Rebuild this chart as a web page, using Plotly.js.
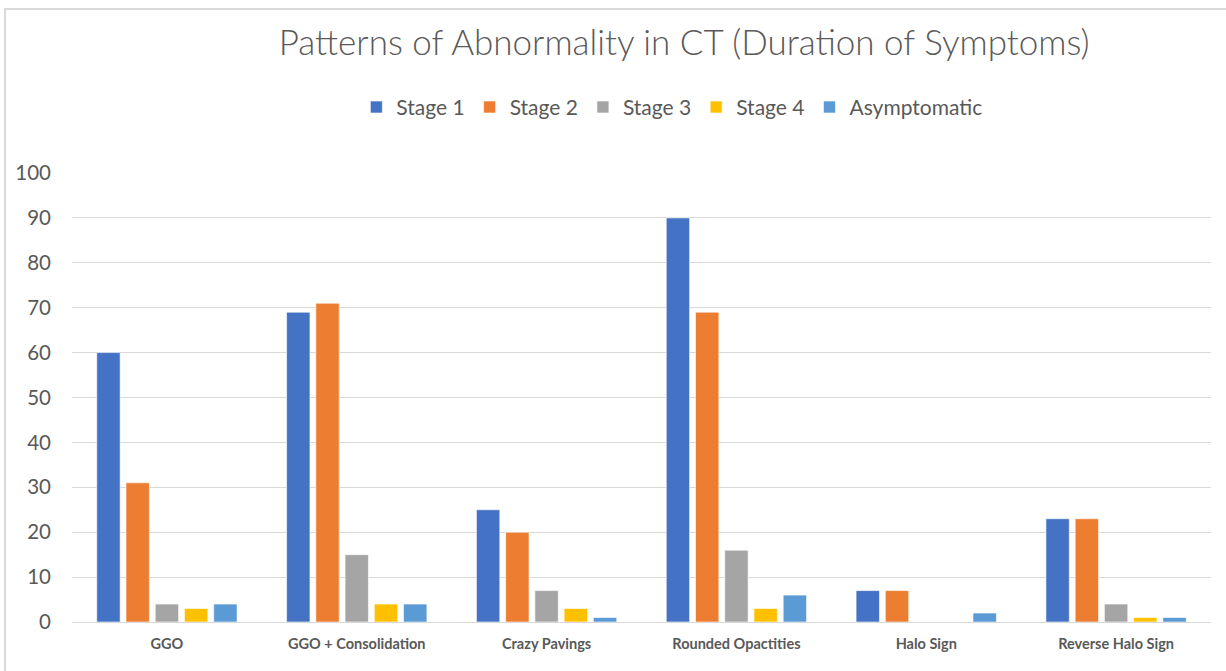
<!DOCTYPE html>
<html>
<head>
<meta charset="utf-8">
<script src="https://cdn.plot.ly/plotly-3.0.1.min.js"></script>
<style>
  html, body { margin: 0; padding: 0; background: #fff; }
  #chart { width: 1226px; height: 671px; }
  #frame { position: absolute; left: 4px; top: 8px; right: -10px; bottom: -10px;
           border-left: 2px solid #d9d9d9; border-top: 2px solid #d9d9d9; pointer-events: none; }
</style>
</head>
<body>
<div id="chart"></div>
<div id="frame"></div>
<script>
const categories = ["GGO", "GGO + Consolidation", "Crazy Pavings", "Rounded Opactities", "Halo Sign", "Reverse Halo Sign"];
const seriesNames = ["Stage 1", "Stage 2", "Stage 3", "Stage 4", "Asymptomatic"];
const stage1 = [60, 69, 25, 90, 7, 23];
const stage2 = [31, 71, 20, 69, 7, 23];
const stage3 = [4, 15, 7, 16, 0, 4];
const stage4 = [3, 4, 3, 3, 0, 1];
const asymptomatic = [4, 4, 1, 6, 2, 1];
const colors = ["#4472C4", "#ED7D31", "#A5A5A5", "#FFC000", "#5B9BD5"];
const yTicks = [0, 10, 20, 30, 40, 50, 60, 70, 80, 90, 100];

const allSeries = [stage1, stage2, stage3, stage4, asymptomatic];
const baseFont = "Lato, 'Open Sans', sans-serif";

const traces = allSeries.map((vals, i) => ({
  type: "bar",
  name: seriesNames[i],
  x: categories,
  y: vals,
  marker: { color: colors[i], line: { color: "rgba(255,255,255,0.6)", width: 1 } },
  hoverinfo: "x+y+name"
}));

const layout = {
  width: 1226,
  height: 671,
  paper_bgcolor: "#ffffff",
  plot_bgcolor: "#ffffff",
  margin: { l: 72, r: 15, t: 173, b: 49 },
  barmode: "group",
  bargap: 0.23,
  bargroupgap: 0.2,
  font: { family: baseFont, color: "#595959" },
  title: {
    text: "Patterns of Abnormality in CT (Duration of Symptoms)",
    font: { family: baseFont, size: 35, color: "#595959", weight: 300 },
    x: 0.558, xanchor: "center", xref: "container",
    y: 0.936, yanchor: "middle", yref: "container"
  },
  legend: {
    orientation: "h",
    xref: "container", yref: "container",
    x: 0.548, xanchor: "center",
    y: 0.84, yanchor: "middle",
    font: { family: baseFont, size: 21, color: "#595959" },
    itemwidth: 30,
    traceorder: "normal"
  },
  xaxis: {
    type: "category",
    showgrid: false,
    showline: true,
    linecolor: "#d9d9d9",
    linewidth: 1,
    ticks: "",
    tickfont: { family: baseFont, size: 14.5, color: "#595959", weight: "bold" },
    ticklabelstandoff: 9
  },
  yaxis: {
    range: [0, 100],
    tickvals: yTicks,
    ticktext: yTicks.map(String),
    showgrid: true,
    gridcolor: "#d9d9d9",
    gridwidth: 1,
    zeroline: true,
    zerolinecolor: "#d9d9d9",
    showline: false,
    ticks: "",
    tickfont: { family: baseFont, size: 20.5, color: "#595959" },
    ticklabelstandoff: 20
  },
  showlegend: true
};

Plotly.newPlot("chart", traces, layout, { displayModeBar: false, staticPlot: false });
</script>
</body>
</html>
